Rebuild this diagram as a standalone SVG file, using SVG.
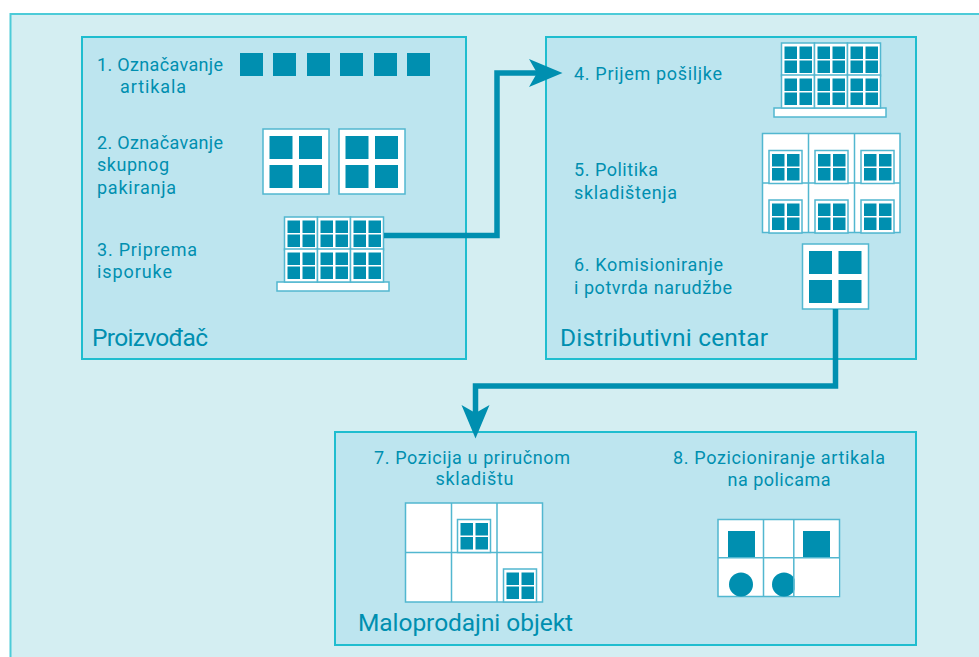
<svg xmlns="http://www.w3.org/2000/svg" xmlns:xlink="http://www.w3.org/1999/xlink" width="979" height="657" viewBox="0 0 979 657">
<style>
.outer{fill:#d4eef2;stroke:#4ccbd8;stroke-width:2}
.box{fill:#bde5ef;stroke:#1fbdcf;stroke-width:2}
.sq{fill:#008fb0}
.w{fill:#fff;stroke:#52b7d0;stroke-width:1.5}
.b{fill:none;stroke:#52b7d0;stroke-width:1.5}
.conn{fill:none;stroke:#008fb0;stroke-width:5.5;stroke-linejoin:miter}
text{font-family:"Roboto","Liberation Sans",sans-serif;fill:#008fb0;font-size:18px;font-weight:400}
.t{font-size:24.5px}
.m{text-anchor:middle}
</style>
<defs>
<marker id="ah" markerUnits="userSpaceOnUse" markerWidth="36" markerHeight="30" refX="8" refY="14" orient="auto" viewBox="0 0 36 30">
<path d="M0,0L33.5,14L0,28L8,14Z" fill="#008fb0"/>
</marker>
<g id="q12"><rect class="sq" x="0" y="0" width="12.5" height="12.5"/><rect class="sq" x="15" y="0" width="12.5" height="12.5"/><rect class="sq" x="0" y="14" width="12.5" height="12.5"/><rect class="sq" x="15" y="14" width="12.5" height="12.5"/></g>
<g id="mini"><rect class="w" x="0" y="0" width="33" height="33"/><use xlink:href="#q12" href="#q12" x="3" y="3.5"/></g>
<g id="pack"><rect class="w" x="0" y="0" width="66" height="65"/><rect class="sq" x="6.5" y="7" width="23" height="23"/><rect class="sq" x="36" y="7" width="23" height="23"/><rect class="sq" x="6.5" y="36" width="23" height="23"/><rect class="sq" x="36" y="36" width="23" height="23"/></g>
<g id="pallet">
<rect class="w" x="-7.5" y="65" width="112" height="9"/>
<use xlink:href="#mini" href="#mini" x="0" y="0"/><use xlink:href="#mini" href="#mini" x="33" y="0"/><use xlink:href="#mini" href="#mini" x="66" y="0"/>
<use xlink:href="#mini" href="#mini" x="0" y="32"/><use xlink:href="#mini" href="#mini" x="33" y="32"/><use xlink:href="#mini" href="#mini" x="66" y="32"/>
</g>
</defs>
<rect id="background" class="outer" x="10.5" y="14" width="980" height="660"/>
<g id="proizvodac">
<rect class="box" x="82" y="37" width="384" height="322"/>
<text class="t" x="92" y="346" textLength="116">Proizvođač</text>
<g id="step1">
<text x="97" y="70.5" textLength="126">1. Označavanje</text><text x="120" y="92.5" textLength="66">artikala</text>
<rect class="sq" x="240" y="53" width="23" height="23"/><rect class="sq" x="273" y="53" width="23" height="23"/><rect class="sq" x="307" y="53" width="23" height="23"/><rect class="sq" x="340" y="53" width="23" height="23"/><rect class="sq" x="374" y="53" width="23" height="23"/><rect class="sq" x="407" y="53" width="23" height="23"/>
</g>
<g id="step2">
<text x="97" y="148.5" textLength="126">2. Označavanje</text><text x="97" y="170.5" textLength="72">skupnog</text><text x="97" y="193.5" textLength="79">pakiranja</text>
<use xlink:href="#pack" href="#pack" x="263" y="129"/><use xlink:href="#pack" href="#pack" x="339" y="129"/>
</g>
<g id="step3">
<text x="97" y="255.5" textLength="100">3. Priprema</text><text x="97" y="277.5" textLength="75">isporuke</text>
<use xlink:href="#pallet" href="#pallet" x="284.5" y="217"/>
</g>
</g>
<g id="distributivni-centar">
<rect class="box" x="546" y="37" width="370" height="322"/>
<text class="t" x="560" y="346" textLength="208">Distributivni centar</text>
<g id="step4">
<text x="574" y="79.5" textLength="148">4. Prijem pošiljke</text>
<use xlink:href="#pallet" href="#pallet" x="781.5" y="43"/>
</g>
<g id="step5">
<text x="574" y="175.5" textLength="84">5. Politika</text><text x="574" y="198.5" textLength="103">skladištenja</text>
<rect class="w" x="762.5" y="133.5" width="137.5" height="99"/>
<path class="b" d="M808.5,133.5V232.5M854.5,133.5V232.5M762.5,183H900"/>
<use xlink:href="#mini" href="#mini" x="769" y="150.5"/><use xlink:href="#mini" href="#mini" x="815" y="150.5"/><use xlink:href="#mini" href="#mini" x="861" y="150.5"/>
<use xlink:href="#mini" href="#mini" x="769" y="200"/><use xlink:href="#mini" href="#mini" x="815" y="200"/><use xlink:href="#mini" href="#mini" x="861" y="200"/>
</g>
<g id="step6">
<text x="574" y="270.5" textLength="149">6. Komisioniranje</text><text x="574" y="293.5" textLength="158">i potvrda narudžbe</text>
<use xlink:href="#pack" href="#pack" x="802.5" y="244"/>
</g>
</g>
<g id="maloprodajni-objekt">
<rect class="box" x="335" y="432" width="581" height="213"/>
<text class="t" x="358" y="631" textLength="215">Maloprodajni objekt</text>
<g id="step7">
<text class="m" x="472" y="463.5" textLength="196">7. Pozicija u priručnom</text><text class="m" x="474.5" y="484.5" textLength="78">skladištu</text>
<rect class="w" x="405.5" y="503" width="137" height="99"/>
<path class="b" d="M451.5,503V602M497,503V602M405.5,552.5H542.5"/>
<use xlink:href="#mini" href="#mini" x="457.5" y="519.5"/><use xlink:href="#mini" href="#mini" x="503.5" y="569"/>
</g>
<g id="step8">
<text class="m" x="779" y="463.5" textLength="212">8. Pozicioniranje artikala</text><text class="m" x="779" y="485.5" textLength="103">na policama</text>
<rect class="w" x="718" y="519.5" width="121.5" height="77"/>
<rect class="sq" x="728" y="531" width="27" height="26.5"/><rect class="sq" x="803" y="531" width="27" height="26.5"/>
<circle class="sq" cx="741" cy="584.5" r="12"/><circle class="sq" cx="784" cy="584.5" r="12"/>
<rect x="794.5" y="558.5" width="44.5" height="37.5" fill="#fff"/>
<path class="b" d="M763.5,519.5V596.5M793.8,519.5V596.5M718,557.7H839.5"/>
</g>
</g>
<g id="connectors">
<path class="conn" d="M384,235.5H497V73H537" marker-end="url(#ah)"/>
<path class="conn" d="M835.5,309V386H475.5V413" marker-end="url(#ah)"/>
</g>
</svg>
